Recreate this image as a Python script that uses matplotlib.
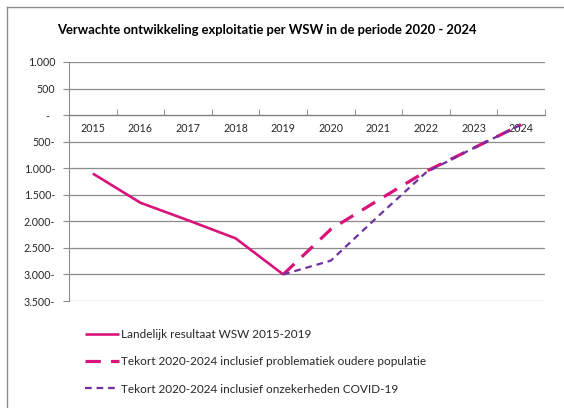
import matplotlib
matplotlib.use('Agg')
import matplotlib.pyplot as plt
from matplotlib.lines import Line2D

PINK = '#d8137a'
PURP = '#7030a0'
GRID = '#8c8c8c'
TXT  = '#262626'

years = ['2015', '2016', '2017', '2018', '2019', '2020', '2021', '2022', '2023', '2024']
# landelijk resultaat 2015-2019
hist_x = years[:5]
hist_y = [-1100, -1650, -1980, -2320, -3000]
# prognoses 2019-2024
prog_x = years[4:]
oud_y   = [-3000, -2150, -1600, -1060, -620, -180]
covid_y = [-3000, -2740, -1900, -1080, -620, -180]

yticks  = [1000, 500, 0, -500, -1000, -1500, -2000, -2500, -3000, -3500]
ylabels = ['1.000', '500', '-  ', '500-', '1.000-', '1.500-', '2.000-', '2.500-', '3.000-', '3.500-']

plt.rcParams['font.family'] = ['Lato', 'DejaVu Sans']

fig = plt.figure(figsize=(5.64, 4.08), dpi=100, facecolor='white')
ax = fig.add_axes([69/564, 1 - 301/408, (545 - 69)/564, (301 - 62)/408])

xi = {y: i for i, y in enumerate(years)}
ax.plot([xi[y] for y in hist_x], hist_y, color=PINK, lw=1.9,
        label='Landelijk resultaat WSW 2015-2019', solid_capstyle='butt')
ax.plot([xi[y] for y in prog_x], oud_y, color=PINK, lw=2.3, dashes=(4.8, 3.2),
        label='Tekort 2020-2024 inclusief problematiek oudere populatie')
ax.plot([xi[y] for y in prog_x], covid_y, color=PURP, lw=1.6, dashes=(3.0, 2.2),
        label='Tekort 2020-2024 inclusief onzekerheden COVID-19')

ax.set_xlim(-0.5, len(years) - 0.5)
ax.set_ylim(-3500, 1000)
ax.set_yticks(yticks)
ax.set_yticklabels(ylabels)
ax.yaxis.grid(True, color=GRID, lw=0.9)
ax.set_axisbelow(True)

for s in ['top', 'right']:
    ax.spines[s].set_visible(False)
ax.spines['left'].set_color(GRID)
ax.spines['bottom'].set_position(('data', 0))
ax.spines['bottom'].set_color('#7f7f7f')

ax.set_xticks(range(len(years)))
ax.set_xticklabels(years)
ax.set_xticks([i - 0.5 for i in range(len(years) + 1)], minor=True)
ax.tick_params(axis='x', which='major', length=0, pad=6, labelsize=7.7, labelcolor=TXT)
ax.tick_params(axis='x', which='minor', length=4, direction='in', color='#7f7f7f')
ax.tick_params(axis='y', length=4, color=GRID, pad=6, labelsize=7.7, labelcolor=TXT)

fig.text(57/564, 1 - 30/408, 'Verwachte ontwikkeling exploitatie per WSW in de periode 2020 - 2024',
         fontsize=9.4, fontweight='bold', color='black', va='center', ha='left')

fig.legend(loc='upper left', bbox_to_anchor=(85/564, 1 - 329/408), frameon=False,
           fontsize=8.5, handlelength=2.9, handletextpad=0.15, labelspacing=1.38,
           borderpad=0, borderaxespad=0, labelcolor=TXT)

# frame of the chart area
fig.add_artist(Line2D([7/564, 7/564], [0, 1 - 7/408], color=GRID, lw=1))
fig.add_artist(Line2D([7/564, 1], [1 - 7/408, 1 - 7/408], color=GRID, lw=1))

fig.savefig('out.png', dpi=100, facecolor='white')
